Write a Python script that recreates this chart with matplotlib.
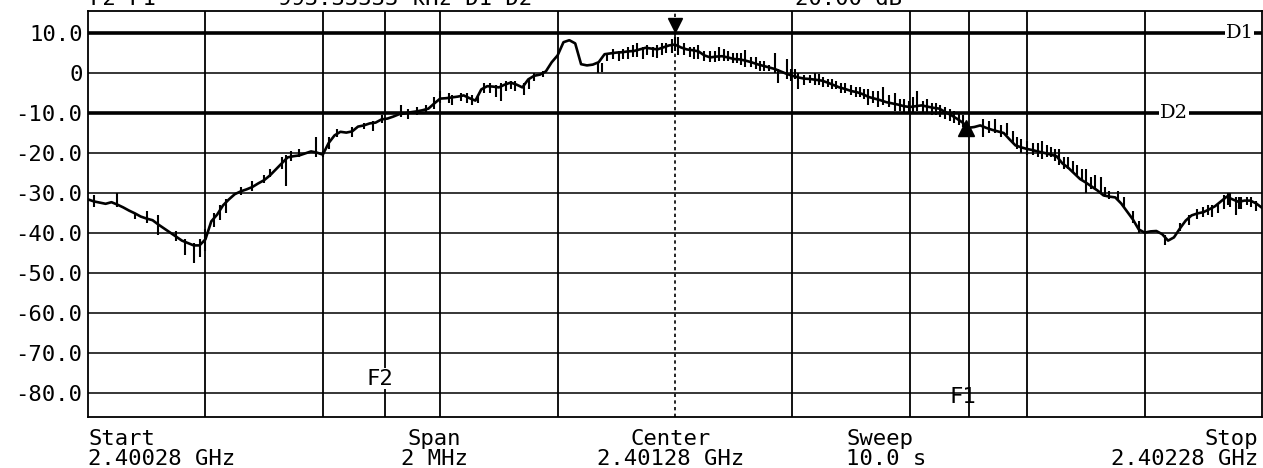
import matplotlib.pyplot as plt
import numpy as np

# sweep samples, offset from start frequency in MHz
freq_mhz = np.round(np.arange(0, 2.001, 0.01), 2)
level_db = [
    -31.5, -32.0, -32.3, -32.6, -32.2, -32.8, -33.5, -34.3, -35.0, -35.8,
    -36.3, -36.7, -37.8, -38.8, -39.8, -40.8, -41.8, -42.4, -43.0, -43.0,
    -41.5, -37.0, -35.3, -33.0, -31.5, -30.2, -29.5, -29.0, -28.4, -27.5,
    -26.7, -25.5, -24.0, -22.5, -21.0, -20.7, -20.5, -20.0, -19.5, -19.8,
    -20.3, -17.4, -15.5, -14.6, -14.8, -14.5, -13.3, -13.0, -12.5, -12.3,
    -11.5, -11.3, -10.8, -10.2, -10.0, -9.7, -9.5, -9.2, -8.8, -7.5,
    -6.3, -6.2, -6.0, -5.8, -5.5, -6.2, -6.8, -4.0, -3.2, -3.3,
    -3.5, -2.8, -2.3, -2.8, -3.5, -1.5, -0.6, -0.3, 0.5, 2.8,
    4.5, 7.8, 8.3, 7.5, 2.3, 2.0, 2.2, 2.8, 4.8, 5.0,
    5.2, 5.3, 5.5, 5.6, 6.0, 6.4, 6.2, 6.0, 6.5, 7.0,
    7.2, 6.5, 6.0, 5.8, 5.5, 4.5, 4.0, 4.2, 4.3, 4.0,
    3.6, 3.5, 3.2, 2.8, 2.3, 1.9, 1.5, 1.1, 0.5, -0.1,
    -0.6, -1.0, -1.3, -1.4, -1.6, -1.8, -2.3, -2.9, -3.5, -3.9,
    -4.4, -4.7, -5.2, -5.9, -6.3, -6.7, -7.2, -7.5, -7.8, -8.2,
    -8.4, -8.2, -8.0, -8.3, -8.6, -8.8, -9.6, -10.4, -11.3, -12.3,
    -13.6, -13.4, -13.0, -13.6, -14.1, -14.5, -14.9, -16.5, -18.0, -18.5,
    -18.9, -19.2, -19.6, -19.9, -20.3, -20.7, -22.5, -23.6, -25.0, -26.4,
    -27.3, -28.3, -29.3, -30.5, -30.8, -31.0, -32.5, -34.5, -36.5, -39.0,
    -39.8, -39.5, -39.4, -40.2, -41.8, -41.0, -38.8, -36.8, -35.5, -35.0,
    -34.7, -34.0, -33.2, -32.0, -30.8, -31.5, -32.1, -31.8, -31.8, -32.5,
    -33.6,
]

# noise spikes riding on the trace (frequency, low, high)
spike_mhz = [
    0.01, 0.05, 0.08, 0.10, 0.12, 0.15, 0.165, 0.18, 0.19, 0.20,
    0.215, 0.225, 0.235, 0.26, 0.28, 0.30, 0.31, 0.33, 0.337, 0.345,
    0.36, 0.388, 0.40, 0.41, 0.425, 0.45, 0.47, 0.485, 0.50, 0.533,
    0.545, 0.56, 0.575, 0.59, 0.60, 0.62, 0.635, 0.664, 0.675, 0.703,
    0.72, 0.742, 0.76, 0.775, 0.868, 0.875, 0.885, 0.895, 0.905, 0.92,
    0.935, 0.945, 0.97, 0.985, 0.995, 1.005, 1.015, 1.025, 1.04, 1.05,
    1.06, 1.075, 1.09, 1.105, 1.12, 1.13, 1.145, 1.16, 1.17, 1.175,
    1.19, 1.205, 1.21, 1.23, 1.245, 1.26, 1.275, 1.29, 1.30, 1.315,
    1.328, 1.345, 1.355, 1.375, 1.39, 1.405, 1.413, 1.43, 1.445, 1.46,
    1.475, 1.49, 1.525, 1.535, 1.545, 1.555, 1.565, 1.575, 1.59, 1.61,
    1.625, 1.64, 1.655, 1.67, 1.685, 1.70, 1.715, 1.725, 1.74, 1.755,
    1.765, 1.78, 1.79, 1.835, 1.86, 1.875, 1.89, 1.90, 1.915, 1.925,
    1.935, 1.945, 1.955, 1.965, 1.975, 1.99,
    0.912, 0.928, 0.953, 0.962, 0.978, 1.000, 1.033, 1.068, 1.083, 1.098,
    1.112, 1.138, 1.152, 1.198, 1.220, 1.238, 1.252, 1.268, 1.283, 1.308,
    1.322, 1.338, 1.365, 1.383, 1.398, 1.422, 1.438, 1.452, 1.468, 1.483,
    0.615, 0.645, 0.655, 0.685, 0.695, 0.712, 0.728, 0.752,
    1.582, 1.600, 1.618, 1.633, 1.648, 1.662, 1.678, 1.693, 1.708, 1.733,
    1.908, 1.942, 1.960, 1.982,
]
spike_lo_db = [
    -33.5, -33.5, -36.5, -37.5, -40.5, -42.0, -45.5, -47.4, -46.0, -44.4,
    -38.5, -36.7, -35.0, -30.5, -29.5, -27.5, -26.0, -24.0, -28.1, -22.0,
    -21.0, -21.0, -21.0, -19.0, -16.0, -16.0, -14.0, -14.5, -12.5, -11.0,
    -11.5, -10.5, -10.0, -9.0, -7.5, -8.0, -7.0, -7.5, -5.0, -6.8,
    -4.0, -5.5, -2.0, -1.0, 0.2, 0.3, 3.0, 3.5, 3.0, 3.5,
    4.0, 3.5, 3.8, 5.0, 5.0, 4.5, 4.5, 4.0, 3.5, 3.0,
    2.9, 3.0, 3.0, 2.5, 1.5, 1.5, 0.5, 0.5, 0.0, -2.5,
    -1.5, -1.5, -3.8, -2.5, -3.0, -3.5, -4.0, -5.0, -5.5, -6.0,
    -8.0, -8.5, -8.0, -9.5, -10.0, -10.2, -9.5, -10.0, -10.5, -11.5,
    -12.5, -13.5, -16.0, -15.0, -15.0, -16.0, -15.5, -17.5, -20.0, -20.5,
    -21.5, -21.0, -23.0, -24.0, -25.5, -29.8, -29.0, -30.0, -31.4, -31.8,
    -33.5, -37.5, -39.8, -43.0, -39.5, -38.0, -36.5, -35.8, -36.0, -35.0,
    -34.0, -33.5, -35.3, -34.0, -33.0, -34.5,
    3.5, 4.0, 4.5, 4.0, 4.5, 5.5, 3.5, 2.8, 3.0, 2.5,
    2.0, 1.0, 0.5, -2.0, -3.0, -3.0, -3.5, -4.0, -5.0, -6.0,
    -6.5, -7.5, -8.5, -9.5, -10.0, -10.0, -10.5, -11.0, -12.0, -13.0,
    -7.5, -7.5, -8.0, -5.0, -6.0, -4.5, -4.5, -4.0,
    -19.0, -20.5, -21.0, -21.0, -22.0, -24.0, -25.0, -27.0, -29.0, -31.0,
    -35.5, -33.0, -34.0, -33.5,
]
spike_hi_db = [
    -30.5, -30.0, -34.8, -34.5, -35.5, -39.5, -41.5, -42.5, -41.5, -39.0,
    -35.0, -33.0, -31.5, -28.5, -27.0, -25.5, -24.0, -21.0, -20.5, -19.5,
    -19.0, -16.0, -19.5, -16.0, -14.0, -13.5, -12.5, -12.0, -10.5, -8.0,
    -9.0, -8.5, -8.0, -6.0, -4.3, -5.5, -5.0, -5.5, -2.5, -2.5,
    -1.8, -2.3, 0.0, 0.5, 2.5, 2.5, 5.0, 6.0, 5.5, 6.5,
    7.5, 6.5, 7.0, 7.5, 8.5, 9.0, 7.5, 6.5, 7.0, 5.5,
    5.5, 6.6, 5.5, 5.0, 5.8, 4.0, 3.0, 2.0, 5.0, 1.0,
    3.5, 1.0, 0.0, -0.5, -0.2, -1.3, -2.0, -2.5, -3.0, -3.5,
    -4.0, -4.5, -3.5, -5.0, -6.5, -6.0, -4.5, -6.5, -7.5, -8.5,
    -9.5, -10.5, -11.5, -12.0, -11.5, -13.0, -12.5, -14.5, -16.5, -17.5,
    -17.0, -18.5, -19.0, -21.0, -22.8, -24.0, -25.5, -26.0, -29.5, -29.5,
    -31.0, -34.5, -37.0, -40.5, -37.5, -35.5, -34.0, -33.5, -33.0, -32.5,
    -30.5, -30.0, -31.0, -31.0, -31.0, -32.0,
    6.0, 7.0, 7.0, 6.5, 7.5, 9.0, 6.5, 5.5, 6.0, 5.2,
    5.0, 4.0, 3.0, 1.0, -0.5, 0.0, -1.0, -1.5, -2.5, -3.5,
    -4.0, -4.5, -5.5, -6.5, -7.0, -7.0, -7.5, -8.0, -9.0, -10.0,
    -5.0, -5.0, -5.5, -2.5, -3.0, -2.0, -2.0, -1.5,
    -16.0, -17.0, -17.5, -18.0, -19.0, -21.0, -22.0, -24.0, -26.0, -28.5,
    -33.0, -30.0, -31.0, -31.0,
]

y_ticks = [10, 0, -10, -20, -30, -40, -50, -60, -70, -80]
y_labels = ["10.0", "0", "-10.0", "-20.0", "-30.0", "-40.0",
            "-50.0", "-60.0", "-70.0", "-80.0"]
grid_mhz = [0.2, 0.4, 0.6, 0.8, 1.2, 1.4, 1.6, 1.8]
f1_mhz = 1.5
f2_mhz = 0.50667
d1_db = 10.0
d2_db = -10.0
center_mhz = 1.0
peak_db = 12.0
f1_db = -13.6

mono = "DejaVu Sans Mono"
fs = 16

fig = plt.figure(figsize=(12.63, 4.68), dpi=100)
ax = fig.add_axes([88 / 1263, 1 - 417 / 468, 1174 / 1263, 406 / 468])
ax.set_xlim(0, 2)
ax.set_ylim(-85.9, 15.6)

for y in y_ticks:
    ax.axhline(y, color="black", lw=1.1, zorder=1)
for x in grid_mhz:
    ax.axvline(x, color="black", lw=1.3, zorder=1)
ax.axvline(f1_mhz, color="black", lw=1.3, zorder=1)
ax.axvline(f2_mhz, color="black", lw=1.3, zorder=1)
ax.axvline(center_mhz, color="black", lw=1.2, ls=(0, (2, 2)), zorder=1)

# display lines D1 / D2
ax.axhline(d1_db, color="black", lw=2.6, zorder=2)
ax.axhline(d2_db, color="black", lw=2.6, zorder=2)

ax.plot(freq_mhz, level_db, color="black", lw=1.9, zorder=3)
ax.vlines(spike_mhz, spike_lo_db, spike_hi_db, color="black", lw=1.5, zorder=3)

ax.plot([center_mhz], [peak_db], marker="v", color="black", ms=10, zorder=4)
ax.plot([f1_mhz - 0.005], [f1_db], marker="^", color="black", ms=11, zorder=4)

ax.text(1.962, d1_db, "D1", family="DejaVu Serif", fontsize=14,
        ha="center", va="center", zorder=5,
        bbox=dict(facecolor="white", edgecolor="none", pad=0.5))
ax.text(1.85, d2_db, "D2", family="DejaVu Serif", fontsize=14,
        ha="center", va="center", zorder=5,
        bbox=dict(facecolor="white", edgecolor="none", pad=0.5))
ax.text(f2_mhz - 0.01, -76.3, "F2", family=mono, fontsize=fs,
        ha="center", va="center", zorder=5,
        bbox=dict(facecolor="white", edgecolor="none", pad=0.3))
ax.text(f1_mhz - 0.01, -81.0, "F1", family=mono, fontsize=fs,
        ha="center", va="center", zorder=5)

ax.set_yticks(y_ticks)
ax.set_yticklabels(y_labels, family=mono, fontsize=fs)
ax.set_xticks([])
ax.tick_params(axis="y", length=0, pad=4)
for s in ax.spines.values():
    s.set_linewidth(1.3)

# readout line at the very top
fig.text(90 / 1263, 1 - 5 / 468, "F2-F1", family=mono, fontsize=fs, va="baseline")
fig.text(278 / 1263, 1 - 5 / 468, "993.33333 kHz D1-D2", family=mono, fontsize=fs, va="baseline")
fig.text(795 / 1263, 1 - 5 / 468, "20.00 dB", family=mono, fontsize=fs, va="baseline")

# sweep settings under the graticule
def bottom(x, txt1, txt2, ha):
    fig.text(x / 1263, 1 - 439 / 468, txt1, family=mono, fontsize=fs, ha=ha, va="center")
    fig.text(x / 1263, 1 - 459 / 468, txt2, family=mono, fontsize=fs, ha=ha, va="center")

bottom(88, "Start", "2.40028 GHz", "left")
bottom(434, "Span", "2 MHz", "center")
bottom(671, "Center", "2.40128 GHz", "center")
fig.text(846 / 1263, 1 - 439 / 468, "Sweep", family=mono, fontsize=fs, va="center")
fig.text(846 / 1263, 1 - 459 / 468, "10.0 s", family=mono, fontsize=fs, va="center")
bottom(1258, "Stop", "2.40228 GHz", "right")

fig.savefig("out.png", dpi=100)
